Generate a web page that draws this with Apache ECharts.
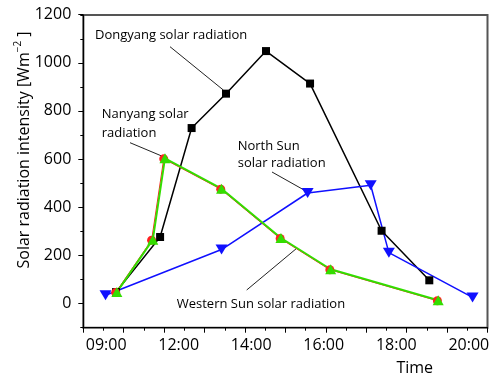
<!DOCTYPE html>
<html>
<head>
<meta charset="utf-8">
<script src="https://cdn.jsdelivr.net/npm/echarts@6/dist/echarts.min.js"></script>
<style>
html,body{margin:0;padding:0;background:#fff;}
#c{width:492px;height:376px;}
</style>
</head>
<body>
<div id="c"></div>
<script>
// Tick labels of the time axis
const timeTicks = ['09:00', '12:00', '14:00', '16:00', '18:00', '20:00'];
// Series (x in plot units, 0..10 across the axis; y in W/m2)
const dongyangX = [0.81, 1.90, 2.68, 3.53, 4.52, 5.61, 7.38, 8.56];
const dongyangY = [48, 277, 730, 873, 1050, 915, 303, 97];
const northX = [0.55, 3.42, 5.55, 7.11, 7.56, 9.63];
const northY = [35, 225, 460, 492, 212, 26];
const nanyangX = [0.80, 1.69, 1.99, 3.40, 4.87, 6.10, 8.76];
const nanyangY = [46, 264, 602, 476, 271, 141, 12];
const westernX = [0.83, 1.72, 2.02, 3.42, 4.89, 6.12, 8.78];
const westernY = [48, 266, 604, 478, 273, 143, 14];
const yTickMax = 1200;

const zip = (xs, ys) => xs.map((x, i) => [x, ys[i]]);
const FONT = '"Open Sans", "DejaVu Sans", sans-serif';
const TXT = {fill: '#000', align: 'left', verticalAlign: 'middle', textAlign: 'left', textVerticalAlign: 'middle', font: '13px ' + FONT};

const chart = echarts.init(document.getElementById('c'), null, {renderer: 'canvas'});
chart.setOption({
  animation: false,
  backgroundColor: '#fff',
  grid: [
    {left: 83.3, right: 4.5, top: 15, bottom: 48.3, containLabel: false, outerBoundsMode: 'none'},
    {left: 83.3, right: 4.5, top: -33.4, bottom: 72.7, containLabel: false, outerBoundsMode: 'none'},
    {left: 106.2, width: 362.6, top: 15, bottom: 48.3, containLabel: false, outerBoundsMode: 'none'}
  ],
  xAxis: [
    {gridIndex: 0, type: 'value', min: 0, max: 10, interval: 1, position: 'bottom',
      axisLine: {show: true, onZero: false, lineStyle: {color: '#000', width: 1.2}},
      axisTick: {show: true, length: 5, lineStyle: {color: '#000', width: 1}},
      minorTick: {show: true, splitNumber: 2, length: 3, lineStyle: {color: '#000', width: 1}},
      axisLabel: {show: false}, splitLine: {show: false}},
    {gridIndex: 1, type: 'value', min: 0, max: 1, show: false},
    {gridIndex: 2, type: 'value', min: 0, max: 5, interval: 1,
      axisLine: {show: false, onZero: false}, axisTick: {show: false}, splitLine: {show: false},
      axisLabel: {show: true, margin: 10, color: '#000', fontSize: 16, fontFamily: FONT,
        formatter: v => timeTicks[Math.round(v)] || ''}}
  ],
  yAxis: [
    {gridIndex: 0, type: 'value', min: -100, max: 1200, interval: 100, position: 'left',
      axisLine: {show: true, onZero: false, lineStyle: {color: '#000', width: 1.2}},
      axisTick: {show: true, length: 3, lineStyle: {color: '#000', width: 1}},
      axisLabel: {show: false}, splitLine: {show: false}},
    {gridIndex: 1, type: 'value', min: 0, max: 1400, interval: 200, position: 'left',
      axisLine: {show: false, onZero: false},
      axisTick: {show: true, length: 5, lineStyle: {color: '#000', width: 1}},
      splitLine: {show: false},
      axisLabel: {show: true, margin: 12, color: '#000', fontSize: 16, fontFamily: FONT,
        formatter: v => (v <= yTickMax ? String(v) : '')}},
    {gridIndex: 2, type: 'value', min: 0, max: 1, show: false}
  ],
  series: [
    {name: 'Dongyang solar radiation', type: 'line', xAxisIndex: 0, yAxisIndex: 0,
      data: zip(dongyangX, dongyangY), symbol: 'rect', symbolSize: 8,
      lineStyle: {color: '#000', width: 1.5}, itemStyle: {color: '#000'}},
    {name: 'North Sun solar radiation', type: 'line', xAxisIndex: 0, yAxisIndex: 0,
      data: zip(northX, northY), symbol: 'triangle', symbolRotate: 180, symbolSize: [12, 10],
      lineStyle: {color: '#1010ff', width: 1.5}, itemStyle: {color: '#1010ff'}},
    {name: 'Nanyang solar radiation', type: 'line', xAxisIndex: 0, yAxisIndex: 0,
      data: zip(nanyangX, nanyangY), symbol: 'circle', symbolSize: 9,
      lineStyle: {color: '#ff2020', width: 1}, itemStyle: {color: '#ff2020'}},
    {name: 'Western Sun solar radiation', type: 'line', xAxisIndex: 0, yAxisIndex: 0,
      data: zip(westernX, westernY), symbol: 'triangle', symbolSize: [11, 10],
      lineStyle: {color: '#33dd00', width: 2}, itemStyle: {color: '#33dd00'}}
  ],
  graphic: [
    {type: 'rect', z: -1, shape: {x: 83.3, y: 15, width: 404.2, height: 312.7},
      style: {stroke: '#555', lineWidth: 2, fill: 'rgba(0,0,0,0)'}},
    {type: 'text', x: 24, y: 150, rotation: Math.PI / 2,
      style: {text: '{a|Solar radiation intensity [Wm}{s|−2}{a| ]}', align: 'center', verticalAlign: 'middle',
        textAlign: 'center', textVerticalAlign: 'middle',
        rich: {a: {fontSize: 16, fontFamily: FONT, fill: '#000', color: '#000', lineHeight: 22},
               s: {fontSize: 10, fontFamily: FONT, fill: '#000', color: '#000', verticalAlign: 'top', lineHeight: 12}}}},
    {type: 'text', x: 414.7, y: 368.3,
      style: {text: 'Time', font: '16px ' + FONT, fill: '#000', align: 'center', verticalAlign: 'middle', textAlign: 'center', textVerticalAlign: 'middle'}},
    {type: 'text', x: 95, y: 35, style: Object.assign({text: 'Dongyang solar radiation'}, TXT)},
    {type: 'text', x: 101.7, y: 114.3, style: Object.assign({text: 'Nanyang solar'}, TXT)},
    {type: 'text', x: 101.7, y: 133.3, style: Object.assign({text: 'radiation'}, TXT)},
    {type: 'text', x: 237.7, y: 146, style: Object.assign({text: 'North Sun'}, TXT)},
    {type: 'text', x: 237.7, y: 163, style: Object.assign({text: 'solar radiation'}, TXT)},
    {type: 'text', x: 176.7, y: 304.3, style: Object.assign({text: 'Western Sun solar radiation'}, TXT)},
    {type: 'line', shape: {x1: 170, y1: 46.7, x2: 223.3, y2: 90}, style: {stroke: '#222', lineWidth: 1}},
    {type: 'line', shape: {x1: 130, y1: 142.7, x2: 161.7, y2: 156}, style: {stroke: '#222', lineWidth: 1}},
    {type: 'line', shape: {x1: 272, y1: 172, x2: 304, y2: 190}, style: {stroke: '#222', lineWidth: 1}},
    {type: 'line', shape: {x1: 246.7, y1: 290, x2: 296.7, y2: 248.3}, style: {stroke: '#222', lineWidth: 1}}
  ]
});
</script>
</body>
</html>
